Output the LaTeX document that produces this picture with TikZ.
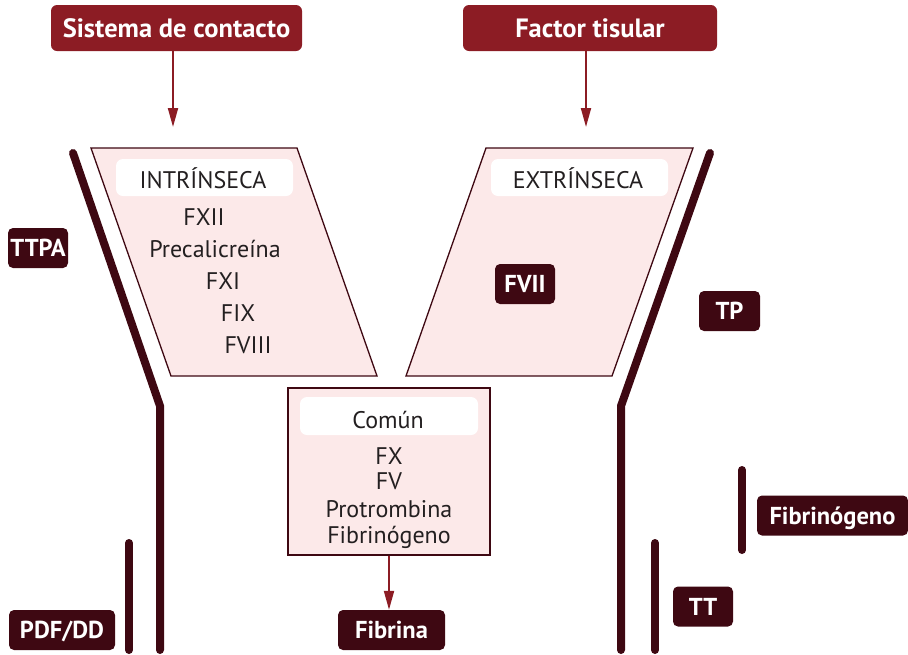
\documentclass[tikz,border=0pt]{standalone}
\usepackage{fontspec}
\setmainfont{PT Sans}
\usetikzlibrary{arrows.meta}
\definecolor{hdr}{HTML}{8C1C24}
\definecolor{dark}{HTML}{3E0812}
\definecolor{pinkf}{HTML}{FCE9E9}
\definecolor{txtc}{HTML}{231F20}
\begin{document}
\begin{tikzpicture}[x=1pt,y=-1pt,
  header/.style={fill=hdr, rounded corners=6pt, text=white, inner sep=0pt,
    font=\bfseries\fontsize{26.5}{30}\selectfont, minimum height=46pt,
    text height=18.2pt, text depth=0pt},
  tag/.style={fill=dark, rounded corners=5pt, text=white, inner sep=0pt,
    font=\bfseries\fontsize{24.5}{28}\selectfont, minimum height=40pt,
    text height=17pt, text depth=0pt},
  arr/.style={draw=hdr, line width=2pt, -{Triangle[width=10pt,length=19pt]}},
  para/.style={draw=dark, line width=1.3pt, fill=pinkf, line join=miter},
  wbox/.style={fill=white, rounded corners=7pt, inner sep=0pt},
  lbl/.style={text=txtc, font=\fontsize{24}{28}\selectfont, anchor=base, inner sep=0pt},
  bar/.style={draw=dark, line width=8pt, line cap=round, line join=miter},
]
\useasboundingbox (0,0) rectangle (908,654);

% headers and arrows
\node[header, minimum width=251pt] (h1) at (176.5,28) {Sistema de contacto};
\node[header, minimum width=254pt] (h2) at (590,28) {Factor tisular};
\coordinate (a1) at (173,127);
\coordinate (a2) at (586,127);
\draw[arr] (a1 |- h1.south) -- (a1);
\draw[arr] (a2 |- h2.south) -- (a2);

% thick pathway lines
\draw[bar] (73,153) -- (160,406) -- (160,650);
\draw[bar] (710,153) -- (621,406) -- (621,650);
\draw[bar] (129,543) -- (129,650);
\draw[bar] (742,470) -- (742,550);
\draw[bar] (655,543) -- (655,650);

% intrinsic
\draw[para] (91,148) -- (297,148) -- (377,376) -- (171,376) -- cycle;
\node[wbox, minimum width=177pt, minimum height=37pt] (wi) at (204.5,177.5) {};
\node[lbl] (ti) at (203,188) {INTRÍNSECA};
\node[lbl] (i1) at (204,225) {FXII};
\node[lbl] (i2) at (215,257) {Precalicreína};
\node[lbl] (i3) at (223,289) {FXI};
\node[lbl] (i4) at (238,321) {FIX};
\node[lbl] (i5) at (248,353) {FVIII};

% extrinsic
\draw[para] (486,148) -- (693,148) -- (612,376) -- (406,376) -- cycle;
\node[wbox, minimum width=177pt, minimum height=37pt] (we) at (579.5,177.5) {};
\node[lbl] (te) at (578,188) {EXTRÍNSECA};
\node[tag, minimum width=60pt] (fvii) at (525,284) {FVII};

% common
\node[para, minimum width=202pt, minimum height=167pt, inner sep=0pt] (com) at (389,471.5) {};
\node[wbox, minimum width=178pt, minimum height=38pt] (wc) at (389,416) {};
\node[lbl] (tc) at (388,428) {Común};
\node[lbl] (c1) at (389,464) {FX};
\node[lbl] (c2) at (389,489) {FV};
\node[lbl] (c3) at (389,517) {Protrombina};
\node[lbl] (c4) at (389,543) {Fibrinógeno};
\node[tag, minimum width=107pt] (fib) at (391.5,630) {Fibrina};
\draw[arr] (com.south) -- (com.south |- fib.north);

% test tags
\node[tag, minimum width=60pt] (ttpa) at (38,248) {TTPA};
\node[tag, minimum width=61pt] (tp) at (729.5,311) {TP};
\node[tag, minimum width=151pt] (fbg) at (832.5,515.5) {Fibrinógeno};
\node[tag, minimum width=60pt] (tt) at (703,606.5) {TT};
\node[tag, minimum width=106pt] (pdf) at (62,630) {PDF/DD};
\end{tikzpicture}
\end{document}
